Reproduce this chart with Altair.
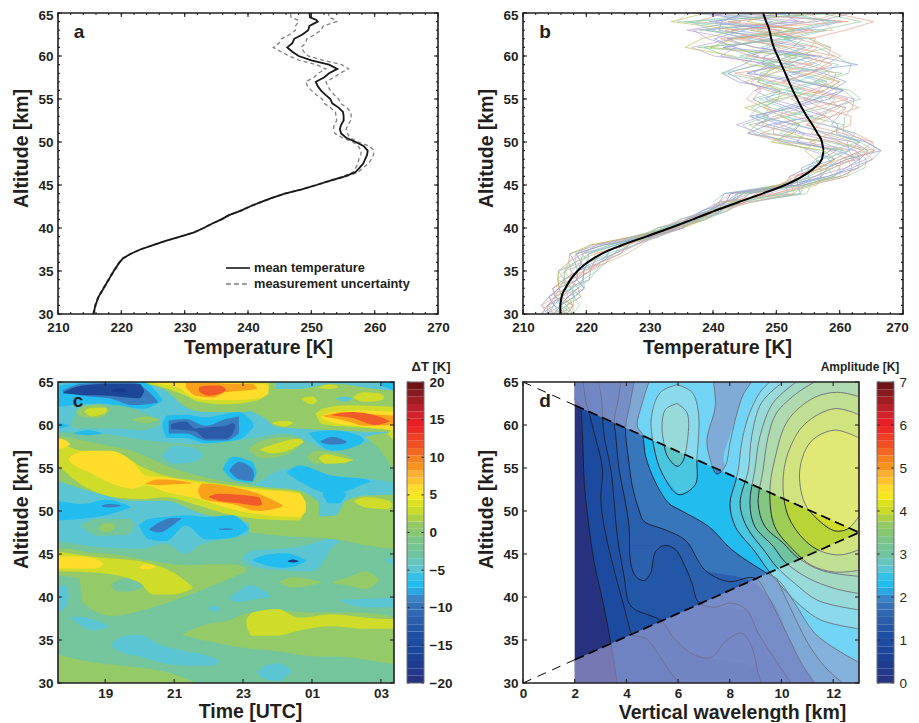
import altair as alt
import pandas as pd

INK = "#231f20"
FONT = "Liberation Sans"

# ---------- panel a ----------
A_ALT = [30,31,32,33,34,35,36,36.5,37,37.5,38,38.5,39,39.5,40,40.5,41,41.5,42,42.5,43,43.5,44,44.5,45,45.5,46,46.5,47,47.5,48,48.5,49,49.5,50,50.5,51,51.5,52,52.5,53,53.5,54,54.5,55,55.5,56,56.5,57,57.5,58,58.5,59,59.5,60,60.5,61,61.5,62,62.5,63,63.5,64,64.2,64.5,65]
A_MEAN = [215.6,215.9,216.4,217.2,218,218.8,219.7,220.3,221.5,223,225,227,229.3,231.5,233,234.3,235.8,237,238.8,240.3,242,243.8,245.8,248.5,250.8,253,255.3,257,257.6,258.2,258.5,258.8,258.9,258.3,257,255.5,254.7,254.5,254.7,255.1,255.1,255,254.3,253.3,253,252.2,251.5,251,250.7,252,252.8,254.1,252.8,250,248,247,246.2,247,247.3,248.6,249.5,249.7,251,250.8,249.8,249.7]
A_HALF = [.1,.1,.1,.1,.1,.1,.1,.1,.1,.1,.1,.1,.1,.1,.1,.1,.1,.1,.15,.15,.15,.15,.15,.15,.2,.2,.3,.4,.6,.8,1,1,1,.9,.4,.6,1,1,1.1,1.1,1.2,1.2,1.3,1.3,1.3,1.4,1.5,1.6,1.6,1.6,1.7,1.8,2,1.9,1.5,1.8,2.2,2.1,2,2,2,2.2,3,3,3,3]

# ---------- panel b ----------
B_ALT = list(range(30, 66))
B_MEAN = [215.9,215.9,216.1,216.7,217.5,218.6,220.2,222.4,225.6,229.4,233.2,236.8,240.3,244,247.8,251.4,254.1,256,257.2,257.5,257.2,256.5,255.7,254.8,254,253.3,252.6,252,251.4,250.8,250.2,249.6,249.2,248.9,248.4,247.9]
B_DEV = [
 [-2,-1,0,1,1,2,2,1,-1,-1,0,1,0,-2,-3,3,5,5,6,7,5,-2,-5,-8,-3,2,4,6,2,-3,-2,3,5,-6,8,14],
 [-3,-2,-1,-1,-2,-2,-3,-4,-3,-1,1,2,1,-3,-5,-1,2,3,5,4,-6,-11,-9,-4,2,8,3,-2,-8,3,7,-3,-8,2,-11,-6],
 [1,2,2,3,2,1,0,-3,-2,0,2,1,-1,1,7,4,7,8,7,8,6,4,5,6,8,9,8,5,10,11,9,7,2,8,15,9],
 [0,-1,-2,0,1,1,2,3,2,1,-1,-2,-1,0,-2,1,-1,1,2,-2,-6,-9,-12,-7,-5,-7,-5,-6,-3,-1,-10,-13,-6,-13,-4,-8],
 [-1,0,1,2,3,3,3,1,-2,-1,1,2,1,-4,-6,-1,1,-1,-1,1,3,1,-2,-3,2,4,-1,1,6,9,3,-2,3,9,-14,-12],
 [2,1,-1,-2,-1,0,1,2,1,0,-1,-1,0,2,6,2,4,6,8,9,7,5,3,5,7,2,-3,-7,-9,-4,0,5,-3,-10,5,3],
 [-3,-2,0,2,0,-1,-1,-4,-5,-2,0,1,2,1,-1,0,-2,2,4,8,8,6,2,-2,-6,-8,-6,-1,4,7,10,8,6,12,17,11],
 [0,1,3,2,0,-2,-2,-1,0,1,2,2,-1,-2,3,5,3,1,-1,-3,-1,-4,-8,-6,-9,-3,5,8,3,-5,-7,-14,-11,-5,-15,-9],
 [2,3,2,1,2,3,2,3,1,-1,-2,0,1,-1,-4,-1,6,7,5,3,0,-6,-3,2,5,10,9,3,-4,1,5,2,-2,3,10,4],
 [-2,-3,-2,-1,1,0,-2,-5,-4,-2,1,0,-2,-3,-6,1,0,-2,0,2,-4,-11,-7,1,-2,-5,-2,-8,-10,-6,-3,-6,-9,-4,1,-11],
 [1,0,0,-1,0,1,3,4,3,1,0,2,1,2,5,3,5,4,3,6,5,1,-1,2,6,5,7,4,7,6,8,9,4,-2,7,12],
 [-1,-2,1,3,1,-1,-3,-3,-1,0,1,-1,-2,-1,1,2,-1,0,6,5,2,-3,-9,-5,0,-4,-6,-3,2,4,-4,-8,1,6,-8,-2],
 [0,2,1,0,3,2,1,0,0,2,2,1,0,1,2,4,7,6,4,1,-2,2,6,7,3,1,5,8,5,-2,2,6,7,-3,3,6],
 [-3,-1,-1,1,2,1,-1,-2,-2,-1,-1,0,-1,-3,4,0,2,3,1,-1,-7,-5,-2,-9,-7,-2,2,-4,-6,-1,-6,1,-4,-9,-12,1],
 [1,-1,-2,-1,-1,0,2,2,2,2,1,-1,-2,-2,-5,1,-2,-1,2,4,6,3,4,3,-1,3,8,2,0,12,6,-3,-7,5,12,-5],
 [-2,0,2,1,-2,-3,-2,-4,-3,0,1,2,2,0,-2,2,1,2,3,7,1,-8,-10,-3,4,6,-1,-5,-2,2,-8,-11,3,-1,-6,8],
 [2,2,0,-1,-2,-3,-3,-5,-5,-2,0,1,0,-1,-3,-1,0,1,2,0,-8,-4,-2,-4,-6,-3,-2,-5,-3,0,3,-10,-6,4,-3,2],
 [-1,-3,-1,0,1,2,1,-1,1,0,-2,-1,-1,-3,2,3,6,7,8,6,3,-1,1,4,9,7,2,-1,4,8,4,7,-2,-7,13,-4],
 [0,0,1,2,2,1,0,-2,-1,1,2,0,-1,-2,-4,2,3,2,4,9,7,2,-3,-7,-2,3,6,9,6,1,-4,-1,4,1,-9,5],
 [-1,1,2,0,-1,-2,0,2,0,-2,-1,2,1,-1,6,3,6,4,1,3,-5,-10,-11,-6,-8,-4,1,-3,-10,-3,2,9,6,-11,3,-7],
 [1,2,-1,-2,0,2,3,2,2,1,1,-1,0,1,-1,-1,-1,0,3,6,8,4,-1,3,1,-1,3,7,8,4,9,3,-5,7,-6,10],
 [-2,-2,0,1,-1,-3,-1,-3,-4,-1,0,1,1,-2,-5,2,2,5,7,5,-3,-7,-6,1,5,9,4,0,-5,-2,-9,-6,-10,-12,6,-10],
 [2,0,-1,1,3,2,0,1,2,0,-2,1,2,0,3,4,1,-1,0,4,4,6,2,-4,-3,-6,0,5,1,6,1,5,2,4,11,1],
 [-1,0,2,3,1,0,-1,-4,-3,1,2,-1,-1,-2,-2,0,4,7,6,2,-4,-2,-7,-9,-1,5,8,2,-6,0,6,-8,0,-8,-7,-3],
 [0,-2,-1,-2,-1,1,2,3,1,-1,1,2,0,-3,5,1,-1,3,5,8,2,-9,-4,4,7,1,-4,-7,-2,5,-5,2,-6,10,9,7],
 [1,1,3,1,-1,-2,-2,-2,-1,2,0,-2,-1,0,-4,3,5,2,-1,1,6,2,5,0,-5,-7,-2,4,9,-3,4,-12,3,-3,-13,13],
]
B_COLORS = ["#8f9fd6","#e9a08a","#93cba0","#b9a0d4","#86cccc","#8f9fd6","#e9a08a","#c0bf5a","#93cba0","#8f9fd6","#d8b090","#b9a0d4","#e9a08a","#86cccc","#8f9fd6","#93cba0","#b5b83a","#e9a08a","#8f9fd6","#93cba0","#e9a08a","#b9a0d4","#86cccc","#8f9fd6","#d8b090","#93cba0"]

# ---------- colour bars ----------
CBAR = ["#27337f","#23388a","#1f3c8f","#1d4296","#1c479c","#1e4ca0","#1f4fa2","#2456a6","#2a5ca9","#3067b1","#3672b8","#3a85c8","#2aa7e0","#23bcee","#35c1e6","#5bc5d3","#66c5bd","#6fc3a0","#75c494","#7bc587","#88c772","#93c966","#aed144","#cbdb2a","#dbe01f","#f4e61f","#ffdd2a","#fdc32b","#fbaf33","#f7941e","#f58220","#f26522","#ef5023","#ee3e26","#ec2a27","#e71f26","#d2232a","#b9202a","#a01d22","#861a1e","#6e1414"]

# ---------- panel c : nested filled contours (hour, low km, high km) ----------
T,G,Y1,Y,O,R,L,S,M,B,D,X = "#74c59c","#94ca68","#cfdc2a","#ffdd2a","#f9a11b","#f15a29","#5bc5d3","#23bcee","#3a7cc0","#2a5aa8","#1d4697","#173a8b"
C_BLOBS = [
 (T,[(17.63,30,65),(27.38,30,65)]),
 (G,[(17.63,30,33.3),(18.5,30,32.5),(19.5,30,32),(20.5,30,31.5),(21,30,31),(21.65,30,30)]),
 (G,[(21.24,35.6,35.7),(21.92,34.9,36.8),(22.69,34.3,37.4),(23,34.1,38),(24,33.7,38.4),(25,33.1,38.2),(26,33,38.2),(27,32.4,38),(27.38,32.2,37.6)]),
 (Y1,[(23.1,36.6,37.4),(23.27,35.5,38.2),(24,35.5,38.6),(24.62,36.1,37.6),(25.59,36.6,38),(26.56,36.3,37.6),(27.38,36.3,37.4)]),
 (L,[(19.16,34.3,34.5),(19.5,33.5,35.4),(20,33.1,35.6),(20.56,32.4,34.5),(21.34,32,33.7),(22.1,32,33),(22.3,32.4,32.6)]),
 (L,[(23.42,31.1,31.3),(23.66,30.4,32),(24,30.2,32.3),(24.4,31.3,31.5)]),
 (L,[(18,37.5,37.7),(18.25,36.8,37.7),(18.63,36.1,37.4),(19.1,36.5,36.7)]),
 (G,[(17.63,42.5,45.66),(18.25,42.1,45.4),(18.34,39.4,45.3),(19.21,37.8,45),(20.37,38.8,44.2),(21.34,40.1,43.7),(22.11,41.3,43.8),(22.69,42.3,43.8),(23.08,42.9,43.4)]),
 (T,[(19.16,41.3,41.4),(19.4,40.6,42),(19.8,40.7,42.2),(20.15,41.3,41.4)]),
 (Y1,[(17.63,43,45.3),(18.83,42.8,44.6),(19.99,41.7,44.2),(20.37,40.3,43.8),(20.95,40.3,42.9),(21.53,41,41.2)]),
 (Y,[(17.63,43.3,44.7),(18.25,43.3,44.7),(18.74,43.3,44.4),(18.95,43.8,43.9)]),
 (Y,[(20,43.4,43.5),(20.2,43.2,43.8),(20.45,43.5,43.6)]),
 (G,[(24.07,41.6,41.8),(24.43,41.1,42.3),(25.25,41.6,41.8)]),
 (G,[(25.6,41.6,41.8),(26.07,41.3,42.3),(26.55,40.9,43),(26.94,41.9,42.1)]),
 (L,[(22.6,39.7,39.9),(22.88,39.4,40.7),(23.17,39.6,41.4),(23.8,40,40.2)]),
 (L,[(25.83,39.5,39.7),(26.56,38.8,39.8),(27.38,38.8,39.9)]),
 (L,[(17.63,38.2,41.3),(17.86,38.9,41.3),(17.94,40,40.2)]),
 (L,[(22,38.6,38.7),(22.2,38.3,39),(22.35,38.6,38.7)]),
 (L,[(22.98,44.3,44.5),(23.27,43.6,45.4),(24.14,43.1,45.6),(25.01,43,46.2),(25.25,43.6,46.5),(25.59,45.8,46.9),(25.78,46.3,46.5)]),
 (S,[(23.3,44.2,44.4),(23.66,43.7,44.9),(24.24,43.4,45.1),(24.82,44.1,44.3)]),
 (X,[(24.3,44.1,44.2),(24.45,44,44.35),(24.6,44.1,44.2)]),
 (L,[(17.63,46.5,65),(18.83,45.8,65),(19.99,45.6,65),(20.76,46.2,65),(21.34,45,65),(21.72,46,65),(22.98,47.1,65),(23.66,47.9,65),(25.59,48.3,65),(27.38,48.3,65)]),
 (T,[(17.63,58.2,59.2),(18.83,57.2,59),(20.28,55.3,58.2),(21.72,53.3,57.8),(23.17,53,58.4),(24.24,54.9,59),(25.59,54.1,57),(26.75,53.7,58.2),(27.38,53.3,59.2)]),
 (L,[(20.66,56.3,56.5),(21,55.5,57.6),(21.5,55.6,57.4),(21.85,56.4,56.6)]),
 (G,[(17.63,53.5,58.8),(18.83,52,57.8),(19.79,51.2,57),(20.76,51.2,55.3),(21.72,49.8,54.1),(22.69,48.9,53.3),(23.66,48.5,52.8),(24.62,48.3,52.4),(25.2,48.7,51)]),
 (G,[(23.17,47.5,49.1),(24.14,47.1,48.9),(25.11,46.9,49.3),(25.7,46.7,49.5),(25.98,46.5,51.2),(26.56,46,51.8),(27.38,45.6,51.9)]),
 (Y1,[(26.22,51.1,51.2),(26.56,50.4,51.6),(27.23,50.2,51.2),(27.32,50.6,50.8)]),
 (Y1,[(17.63,55.3,58.2),(18.34,53,57),(19.31,51.6,56.8),(20.08,51.4,55.1),(20.76,51.6,54.1),(21.72,50.6,53.5),(22.69,49.5,53),(23.66,49,52.6),(24.62,48.9,52.2),(24.82,50.5,50.7)]),
 (Y,[(17.63,57.2,58.5),(17.8,57.3,58.3),(17.98,57.7,57.8)]),
 (Y,[(17.95,55.9,56.1),(18.05,55.5,56.5),(18.54,54.5,57),(19.12,53.3,57),(19.79,52.6,55.7),(20.18,53,54.1),(20.76,52.2,53.9),(21.72,51.4,53.3),(22.69,50.2,52.8),(23.66,49.5,52.4),(24.62,49.3,52),(24.82,50,51)]),
 (O,[(20.18,53.1,53.2),(20.57,53,53.7),(21,53.1,53.6),(21.5,53.2,53.3)]),
 (O,[(21.69,52.3,52.4),(21.82,51.4,53.2),(22.69,50.8,52.8),(23.46,50,52),(24.14,50.5,50.7)]),
 (R,[(22.01,51.6,51.7),(22.3,51.2,52),(22.88,50.9,51.9),(23.46,50.6,51.6),(23.55,50.8,50.9)]),
 (S,[(17.63,48.9,51.2),(18.34,49.1,50.8),(19.02,49.5,51.3),(19.74,50.4,50.5)]),
 (M,[(18.9,50.5,50.6),(19.1,50.4,50.8),(19.45,50.6,50.7)]),
 (T,[(18.29,48.2,48.4),(18.83,47.1,49.1),(19.7,47.3,49.1),(19.85,48.2,48.3)]),
 (G,[(18.8,47.9,48),(19,47.5,48.6),(19.2,47.8,48.6),(19.3,48.1,48.2)]),
 (S,[(19.99,48.2,48.4),(20.28,46.7,49.1),(20.76,46.5,49.3),(21.34,48.3,49.5),(21.92,46.7,49.3),(22.69,46.9,49.5),(23.17,47.9,48)]),
 (M,[(20.28,47.8,47.9),(20.57,47.5,48.7),(20.95,48.3,49.2),(21.2,49.1,49.2)]),
 (M,[(22.3,47.85,47.95),(22.5,47.8,48),(22.7,47.85,47.95)]),
 (G,[(23.08,61.9,63.4),(23.66,60.7,64.2),(23.95,59.8,64.2),(24.62,59.6,64.2),(25.59,59.4,64.8),(26.84,59.2,64.2),(27.38,59.2,64)]),
 (G,[(26.56,58.5,58.6),(27,57,59),(27.38,54.6,59.2)]),
 (Y1,[(27.2,58.9,59),(27.3,58.5,59.5),(27.38,58.2,60)]),
 (S,[(27,64.6,65),(27.38,64,65)]),
 (G,[(20.08,64.8,65),(20.76,64,65),(21.34,62.1,65),(21.92,61.5,65),(22.69,61.5,65),(23.46,61.7,65),(23.95,63.4,64.9)]),
 (Y1,[(20.18,64.9,65),(20.95,64,65),(21.34,63.4,65),(21.72,62.7,65),(22.5,62.4,65),(23.46,62.9,65),(23.75,64,64.9)]),
 (Y,[(20.47,64.8,65),(21.15,64.3,64.9),(21.43,63.4,64.9),(21.92,62.9,64.9),(22.69,62.9,64.9),(23.46,63.1,64.8),(23.73,63.6,64.6)]),
 (O,[(21.34,64.4,64.9),(21.63,63.4,64.9),(22.11,63.2,64.9),(22.5,63.8,64.8),(23.27,64.1,64.8),(23.4,64.2,64.3)]),
 (R,[(21.72,63.9,64.4),(22.01,63.4,64.6),(22.3,63.6,64.6),(22.5,64,64.2)]),
 (S,[(17.63,62.1,64.6),(18.83,62.5,65),(20.08,61.9,65),(20.66,62.8,63)]),
 (M,[(17.76,63.9,64),(18.34,63.4,64.8),(19.12,63.1,64.9),(19.79,62.3,64.9),(20.52,62.6,62.8)]),
 (D,[(17.78,63.7,63.8),(18.34,63.5,64.6),(19.12,63.4,64.8),(19.99,63.1,64.8),(20.13,63.9,64)]),
 (X,[(19.2,63.9,64),(19.5,63.8,64.3),(19.6,63.9,64)]),
 (T,[(18,59.8,60),(18.34,59.6,62.3),(19.3,59.6,62.3),(20.08,59.4,61.5),(20.6,60,60.5)]),
 (G,[(18.15,61.5,61.6),(18.34,60.9,62.1),(18.83,60.8,62.4),(19.12,61.6,61.8)]),
 (Y1,[(18.4,61.5,61.6),(18.6,61,62),(19,61.4,62),(19.05,61.7,61.8)]),
 (G,[(19.79,60.6,60.7),(20.2,60.2,61),(20.57,60.6,60.7)]),
 (S,[(18.1,59,59.1),(18.5,58.8,59.4),(18.9,59,59.1)]),
 (S,[(17.63,59.5,60.3),(17.95,59.9,60)]),
 (S,[(20.66,59.8,60.2),(20.8,58.5,61.1),(21.34,58.5,61.2),(21.92,57.9,60.9),(22.88,58.3,61.5),(23.3,59.8,60.2)]),
 (M,[(20.84,59,60.5),(21.34,59,60.7),(21.92,58.2,59.9),(22.5,58.2,60.7),(22.88,59,61)]),
 (B,[(20.9,59.5,60.1),(21.34,59.4,60.4),(21.6,59.3,59.6),(21.92,58.4,59.7),(22.5,58.4,59.9),(22.7,59,60.2),(22.78,59.9,60)]),
 (S,[(24.91,59,59.1),(25.59,57,59.4),(26.41,57.8,58.7),(26.5,58.2,58.3)]),
 (M,[(25.25,58,58.1),(25.6,57.7,58.6),(26,57.9,58.1)]),
 (S,[(24.28,54.4,54.6),(24.62,53.5,55.3),(25.59,52,54.1),(26.56,53.2,53.7),(26.7,53.4,53.5)]),
 (S,[(25.3,52,52.1),(25.5,50.9,52.2),(25.78,50.9,52.2),(26,52,52.1)]),
 (S,[(22.42,54.8,55),(22.69,53.7,56.3),(23.27,53.3,55.7),(23.39,54.4,54.6)]),
 (M,[(22.61,54.6,54.8),(22.88,53.7,55.7),(23.27,53.5,54.9),(23.32,54.1,54.3)]),
 (G,[(23.17,57.1,57.3),(23.56,56.1,58.2),(24.24,56.5,58.6),(24.72,57.8,58.4)]),
 (Y1,[(23.5,57.1,57.2),(23.85,56.7,57.7),(24.6,57.6,58.4),(24.75,58,58.1)]),
 (Y1,[(23.85,60.2,60.3),(24.2,59.8,60.5),(24.45,60.2,60.3)]),
 (G,[(24.87,56.2,56.4),(25.11,55.5,57),(25.98,55.5,56.5),(26.1,56,56.1)]),
 (Y1,[(25.2,56.1,56.2),(25.4,55.5,56.6),(25.9,55.6,56.2),(26.2,55.9,56)]),
 (Y1,[(25.11,61.2,61.3),(25.3,60.1,61.9),(26.07,59.8,62.3),(27.38,59.4,62.1)]),
 (Y,[(25.26,60.8,60.9),(25.59,60.3,61.5),(26.56,59.8,61.7),(27.38,59.4,61.5)]),
 (O,[(25.35,61,61.1),(25.98,60.5,61.5),(26.56,59.9,61.3),(27.38,60,61.1)]),
 (R,[(25.59,61.1,61.2),(26.17,60.8,61.5),(26.84,60,61.1),(27.25,60.4,60.5)]),
 (Y1,[(24.7,63,63.1),(25,62.4,63.3),(25.15,62.8,62.9)]),
 (Y1,[(26.2,63.2,63.3),(26.5,62.7,63.8),(26.94,62.8,63.7),(27.1,63.2,63.3)]),
 (Y1,[(25.2,64.3,64.4),(25.5,64.2,64.7),(25.75,64.4,64.5)]),
 (L,[(25.7,63,63.1),(26,62.7,63.3),(26.15,63,63.1)]),
 (L,[(27.1,44.3,44.4),(27.38,43.7,44.5)]),
]
C_TICKS = [19,21,23,25,27]

# ---------- panel d : contour lines (km, altitude) ----------
D_C1 = [(2,63),(2.2,62.2),(2.3,58.7),(2.37,53.3),(2.5,49.4),(2.76,43.9),(3.08,39.6),(3.4,34.6),(3.65,30)]
D_C2 = [(2.33,65),(2.44,62.6),(2.54,61.6),(2.79,58.7),(3.08,54.8),(3.01,51.7),(3.14,48.2),(3.53,43.1),(3.87,39.3),(4.08,36.9),(4.23,35.6),(4.74,35.2),(5.32,33),(5.64,31.5),(6.03,30)]
D_C3 = [(2.92,65),(3.04,63),(3.08,60.8),(3.14,58.7),(3.4,54.8),(3.53,50.9),(3.65,47),(3.91,42.4),(4.1,39.3),(4.36,38.5),(4.87,37.9),(5.32,37.3),(5.9,35),(6.67,33.2),(7.31,33),(7.82,34.8),(8.46,35.8),(8.85,34.2),(9.1,31.1),(9.23,30)]
D_C3F = [(2.92,65),(3.04,63),(3.08,60.8),(3.14,58.7),(3.4,54.8),(3.53,50.9),(3.65,47),(3.91,42.4),(4.1,39.3),(4.36,38.5),(4.87,37.9),(5.32,37.3),(5.9,35),(6.67,33.2),(8.85,32),(9.23,30)]
D_C4 = [(3.78,65),(3.69,63),(3.53,60.6),(3.59,58.7),(3.72,54.8),(3.97,50.9),(4.1,48.2),(4.17,43.9),(4.36,42.4),(4.68,41.9),(4.94,42.8),(5.13,45.3),(5.51,46),(5.9,45.5),(6.28,43.5),(6.54,41.6),(6.79,39.4),(7.37,38.8),(8.08,39.3),(8.65,38.5),(9.1,35.8),(9.87,32.2),(10.38,30)]
D_C5 = [(4.29,65),(4.15,62.6),(3.97,59.7),(4.1,55.6),(4.23,52.9),(4.49,50.1),(4.68,48.8),(5.51,47.8),(6.28,46.6),(7.05,43.1),(7.95,41.8),(8.97,42.2),(9.49,40),(10.26,35.4),(10.77,32.3),(11.28,30)]
D_E1 = [(9.81,42.2),(10.38,38.5),(11.03,34.6),(11.67,31.9),(12.37,30)]
D_A = [(4.87,65),(4.62,62.6),(4.42,59.9),(4.62,58.9),(4.74,56.4),(5.13,53.3),(5.64,50.9),(6.15,50),(7.18,48.2),(8.08,45.5),(9.36,42.9),(9.87,42),(10.51,39.3),(11.28,35.8),(12.18,33.8),(13,32.4)]
D_TONGUE = [(7.37,65),(7.44,62.2),(7.12,58.3),(7.24,56),(7.5,54.3),(7.82,55.2),(8.01,57.9),(8.21,60.6),(8.53,63.6),(8.85,65)]
D_LOOP1 = [(5.96,64.7),(5.32,63.8),(4.97,61),(5.06,57.5),(5.38,54.4),(6.03,51.9),(6.67,53.1),(6.73,56),(6.79,61.4),(6.54,63.8),(5.96,64.7)]
D_LOOP2 = [(5.96,62.5),(5.51,61.8),(5.38,59.9),(5.45,57.9),(5.58,56.4),(5.96,55.2),(6.15,55.6),(6.35,57.9),(6.35,61.4),(5.96,62.5)]
D_R1 = [(9.55,65),(9.17,63.8),(8.72,61),(8.46,57.9),(8.33,54.8),(8.21,53.3),(8.01,50.9),(8.21,48.2),(8.97,45.3),(9.49,43.1),(10.13,40.8),(10.77,38.9),(11.54,37.3),(13,36.3)]
D_R2 = [(10.06,65),(9.23,62.6),(8.85,58.7),(8.72,54.8),(8.4,50.9),(8.65,48.2),(9.36,45.3),(9.81,43.5),(10.51,41.6),(11.41,39.6),(13,38.5)]
D_R3 = [(10.58,65),(9.68,62.6),(9.17,58.7),(8.97,54.8),(8.78,50.9),(8.97,48.2),(9.68,45.9),(10.13,44.1),(11.03,42.2),(12.05,41),(13,40.4)]
D_R4 = [(11.28,65),(10.64,63.8),(9.81,61.4),(9.49,58.7),(9.29,54.8),(9.1,50.9),(9.36,48.2),(10.06,46.3),(10.58,44.7),(11.54,43.1),(13,42.4)]
D_R5 = [(13,63.3),(12.18,63.8),(11.28,63.2),(10.26,60.6),(9.74,56),(9.55,52.1),(9.74,48.2),(10.45,45.5),(11.15,43.7),(12.05,42.9),(13,43.1)]
D_R6 = [(13,61.2),(12.05,61.9),(10.9,60.1),(10.26,56.8),(10.06,53.3),(10.26,49.4),(10.9,46.6),(11.54,45.3),(12.31,44.9),(13,45.5)]
D_R7 = [(13,58.5),(12.05,59.4),(11.15,58.1),(10.71,54.8),(10.9,50.9),(11.41,49),(12.05,47.7),(12.56,47.9),(13,49.4)]
D_LINES = [D_C1,D_C2,D_C3,D_C4,D_C5,D_E1,D_A,D_TONGUE,D_LOOP1,D_LOOP2,D_R1,D_R2,D_R3,D_R4,D_R5,D_R6,D_R7]

def right_of(path):
    return [(a, x, 13) for x, a in path]

# fills : (colour, [(altitude, left km, right km), ...]) painted in order
D_FILLS = [
 ("#27337f",[(65,2,13),(30,2,13)]),
 ("#1b4a9f",[(65,2,13)]+right_of(D_C1)),
 ("#1e51a4",right_of(D_C2)),
 ("#2256a7",right_of(D_C3F)),
 ("#2a60ad",right_of(D_C4[:7])+[(46,4.14,13)]),
 ("#2a60ad",[(46,4.14,5.51),(45.3,4.15,5.13),(43.9,4.17,4.98),(42.8,4.3,4.94),(42.4,4.36,4.85),(41.9,4.68,4.68)]),
 ("#2a60ad",[(46,5.51,13),(45.5,5.9,13),(43.5,6.28,13),(41.6,6.54,13),(39.4,6.79,13),(38.8,7.37,13),(38.5,8.65,13),(35.8,9.1,13),(32.2,9.87,13),(30,10.38,13)]),
 ("#3876bc",[(65,4.29,13),(62.6,4.15,13),(59.7,3.97,13),(55.6,4.1,13),(52.9,4.23,13),(50.1,4.49,13),(48.8,4.68,13),(47.8,5.51,13),(46.6,6.28,13),(43.1,7.05,13),(42.2,8.5,13),(40,9.49,13),(35.4,10.26,13),(32.3,10.77,13),(30,11.28,13)]),
 ("#3f86c8",right_of(D_E1)),
 ("#23bcee",right_of(D_A)),
 ("#3a7cc0",[(65,7.37,8.85),(63.6,7.42,8.53),(62.2,7.44,8.38),(60.6,7.3,8.21),(58.3,7.12,7.95),(56,7.24,7.75),(55.2,7.38,7.82),(54.3,7.5,7.5)]),
 ("#49c6e0",[(64.7,5.96,5.96),(63.8,5.32,6.54),(61,4.97,6.77),(57.5,5.06,6.75),(54.4,5.38,6.72),(53.1,5.7,6.67),(51.9,6.03,6.03)]),
 ("#5fc6c4",[(62.5,5.96,5.96),(61.8,5.51,6.2),(59.9,5.38,6.38),(57.9,5.45,6.35),(56.4,5.58,6.24),(55.2,5.96,5.96)]),
 ("#49c6e0",right_of(D_R1)),
 ("#5fc6c4",right_of(D_R2)),
 ("#6fc3a0",right_of(D_R3)),
 ("#82c682",right_of(D_R4)),
 ("#9dcd55",[(63.8,12.18,12.18),(63.3,11.4,13),(60.6,10.26,13),(56,9.74,13),(52.1,9.55,13),(48.2,9.74,13),(45.5,10.45,13),(43.7,11.15,13),(43.1,11.7,13),(42.9,12.05,12.5)]),
 ("#b8d437",[(61.9,12.05,12.05),(61.2,11.5,13),(60.1,10.9,13),(56.8,10.26,13),(53.3,10.06,13),(49.4,10.26,13),(46.6,10.9,13),(45.5,11.44,13),(45.3,11.54,12.7),(44.9,12.31,12.31)]),
 ("#d0dd2a",[(59.4,12.05,12.05),(58.5,11.4,13),(58.1,11.15,13),(54.8,10.71,13),(50.9,10.9,13),(49.4,11.2,13),(49,11.41,12.9),(47.9,12,12.56),(47.7,12.05,12.3)]),
]
MASK_X = [2, 13]
MASK_UP = [62.3, 47.5]
MASK_LOW = [32.7, 47.5]
GUIDE_X = [0, 2]
GUIDE_UP = [65, 62.3]
GUIDE_LOW = [30, 32.7]
TINT_LOW = [(2,30,32.7),(5.5,30,37.4),(8.97,30,42.2),(9.49,30,40),(10.26,30,35.4),(10.77,30,32.3),(11.28,30,30)]
TINT_UP = [(2,62.3,65),(3.97,59.6,65),(4.15,62.6,65),(4.29,65,65)]

# ---------- helpers ----------
ONE = pd.DataFrame({"a": [0]})
Y_SCALE = alt.Scale(domain=[30, 65], nice=False, zero=False)
TY_TICKS = [30, 35, 40, 45, 50, 55, 60, 65]
Y_MINOR = list(range(30, 66))
T_SCALE = alt.Scale(domain=[210, 270], nice=False, zero=False)
T_TICKS = list(range(210, 271, 10))
T_MINOR = list(range(210, 271, 2))

def axis(values, title, expr=None, labelPad=6, size=19.5, **kw):
    opts = dict(values=values, title=title, tickSize=0, domain=False, grid=False, labelFont=FONT, labelFontSize=13.5,
                labelFontWeight="bold", labelColor=INK, titleFont=FONT, titleFontSize=size, titleFontWeight="bold",
                titleColor=INK, labelPadding=labelPad, labelOverlap=False, labelFlush=False, **kw)
    if expr:
        opts["labelExpr"] = expr
    return alt.Axis(**opts)

def xaxis(values, title, tx, ty, **kw):
    return axis(values, title, titleX=tx, titleY=ty, titleBaseline="alphabetic", titleAnchor="middle", titleAlign="center", **kw)

def yaxis(tx, ty, **kw):
    return axis(TY_TICKS, "Altitude [km]", labelPad=5, titleX=tx, titleY=ty, titleBaseline="middle", titleAnchor="middle", titleAlign="center", **kw)

def xticks(vals, scale, ax, h, L):
    d = pd.DataFrame({"v": vals})
    base = alt.Chart(d).mark_rule(color=INK, strokeWidth=1.1)
    x = alt.X("v:Q", scale=scale, axis=ax)
    return [base.encode(x=x, y=alt.value(h), y2=alt.value(h - L)), base.encode(x=x, y=alt.value(0), y2=alt.value(L))]

def yticks(vals, scale, ax, w, L):
    d = pd.DataFrame({"v": vals})
    base = alt.Chart(d).mark_rule(color=INK, strokeWidth=1.1)
    y = alt.Y("v:Q", scale=scale, axis=ax)
    return [base.encode(y=y, x=alt.value(0), x2=alt.value(L)), base.encode(y=y, x=alt.value(w), x2=alt.value(w - L))]

def frame(w, h, sw=1.6, col=INK):
    return alt.Chart(ONE).mark_rect(fillOpacity=0, stroke=col, strokeWidth=sw).encode(
        x=alt.value(0), x2=alt.value(w), y=alt.value(0), y2=alt.value(h))

def letter(t, px, py):
    return alt.Chart(ONE).mark_text(text=t, font=FONT, fontSize=19, fontWeight="bold", color=INK).encode(
        x=alt.value(px), y=alt.value(py))

def profile_frame(a, t):
    return pd.DataFrame({"alt": a, "t": t, "i": range(len(a))})

# ---------- a ----------
WA, HA = 380, 301
AX_T = xaxis(T_TICKS, "Temperature [K]", 200, 39)
AX_Y = yaxis(-37, 135, labelOffset={"condition": {"test": "datum.value == 65", "value": 2}, "value": 0})
xa = alt.X("t:Q", scale=T_SCALE, axis=AX_T)
ya = alt.Y("alt:Q", scale=Y_SCALE, axis=AX_Y)
a_layers = [
    alt.Chart(profile_frame(A_ALT, [m + h for m, h in zip(A_MEAN, A_HALF)])).mark_line(color="#808080", strokeWidth=1.3, strokeDash=[4, 3]).encode(x=xa, y=ya, order="i:Q"),
    alt.Chart(profile_frame(A_ALT, [m - h for m, h in zip(A_MEAN, A_HALF)])).mark_line(color="#808080", strokeWidth=1.3, strokeDash=[4, 3]).encode(x=xa, y=ya, order="i:Q"),
    alt.Chart(profile_frame(A_ALT, A_MEAN)).mark_line(color="#1a1718", strokeWidth=1.8).encode(x=xa, y=ya, order="i:Q"),
]
a_layers += xticks(T_TICKS, T_SCALE, AX_T, HA, 4) + xticks(T_MINOR, T_SCALE, AX_T, HA, 2)
a_layers += yticks(TY_TICKS, Y_SCALE, AX_Y, WA, 4) + yticks(Y_MINOR, Y_SCALE, AX_Y, WA, 2)
a_layers += [
    alt.Chart(ONE).mark_rule(color="#1a1718", strokeWidth=1.6).encode(x=alt.value(168), x2=alt.value(192), y=alt.value(255)),
    alt.Chart(ONE).mark_rule(color="#808080", strokeWidth=1.5, strokeDash=[5, 3]).encode(x=alt.value(168), x2=alt.value(192), y=alt.value(271)),
    alt.Chart(ONE).mark_text(text="mean temperature", font=FONT, fontSize=12.8, fontWeight="bold", color=INK, align="left").encode(x=alt.value(196), y=alt.value(255)),
    alt.Chart(ONE).mark_text(text="measurement uncertainty", font=FONT, fontSize=12.8, fontWeight="bold", color=INK, align="left").encode(x=alt.value(196), y=alt.value(271)),
    letter("a", 21, 19), frame(WA, HA),
]
panel_a = alt.layer(*a_layers).properties(width=WA, height=HA)

# ---------- b ----------
AX_TB = xaxis(T_TICKS, "Temperature [K]", 194, 39, labelOffset={"condition": {"test": "datum.value == 270", "value": -6}, "value": 0})
xb = alt.X("t:Q", scale=T_SCALE, axis=AX_TB)
rows = []
for p, dev in enumerate(B_DEV):
    for i, (al, m, dv) in enumerate(zip(B_ALT, B_MEAN, dev)):
        rows.append({"p": f"p{p:02d}", "c": B_COLORS[p], "alt": al, "t": m + dv, "i": i})
b_layers = [
    alt.Chart(pd.DataFrame(rows)).mark_line(strokeWidth=0.8, opacity=0.85, clip=True).encode(x=xb, y=ya, color=alt.Color("c:N", scale=None), detail="p:N", order="i:Q"),
    alt.Chart(profile_frame(B_ALT, B_MEAN)).mark_line(color="#000000", strokeWidth=2, interpolate="monotone").encode(x=xb, y=ya, order="i:Q"),
]
b_layers += xticks(T_TICKS, T_SCALE, AX_TB, HA, 4) + xticks(T_MINOR, T_SCALE, AX_TB, HA, 2)
b_layers += yticks(TY_TICKS, Y_SCALE, AX_Y, WA, 4) + yticks(Y_MINOR, Y_SCALE, AX_Y, WA, 2)
b_layers += [letter("b", 22, 19), frame(WA, HA)]
panel_b = alt.layer(*b_layers).properties(width=WA, height=HA)

# ---------- c ----------
WC, HC = 336, 301
X_C = alt.Scale(domain=[17.63, 27.38], nice=False, zero=False)
AX_C = xaxis(C_TICKS, "Time [UTC]", 192, 34, expr="datum.value > 24 ? '0' + (datum.value - 24) : '' + datum.value", labelPad=3)
AX_Y2 = yaxis(-37, 127)
rows = []
for n, (c, pts) in enumerate(C_BLOBS):
    for (h, lo, hi) in pts:
        rows.append({"b": f"b{n:03d}", "c": c, "x": h, "lo": lo, "hi": hi})
c_layers = [
    alt.Chart(pd.DataFrame(rows)).mark_area(interpolate="monotone", clip=True).encode(
        x=alt.X("x:Q", scale=X_C, axis=AX_C),
        y=alt.Y("lo:Q", scale=Y_SCALE, axis=AX_Y2),
        y2="hi:Q", color=alt.Color("c:N", scale=None), detail="b:N"),
]
c_layers += xticks(C_TICKS, X_C, AX_C, HC, 4) + yticks(TY_TICKS, Y_SCALE, AX_Y2, WC, 4)
c_layers += [letter("c", 20, 19), frame(WC, HC)]
panel_c = alt.layer(*c_layers).properties(width=WC, height=HC)

# ---------- d ----------
WD, HD = 336, 301
X_D = alt.Scale(domain=[0, 13], nice=False, zero=False)
D_TICKS = list(range(0, 13, 2))
AX_D = xaxis(D_TICKS, "Vertical wavelength [km]", 209, 35, labelPad=3)
rows = []
for n, (c, pts) in enumerate(D_FILLS):
    for (al, x1, x2) in pts:
        rows.append({"b": f"f{n:03d}", "c": c, "alt": al, "x1": x1, "x2": x2})
lines = []
for n, path in enumerate(D_LINES):
    for i, (x, al) in enumerate(path):
        lines.append({"l": f"l{n:02d}", "x": x, "alt": al, "i": i})
mask = pd.DataFrame({"x": MASK_X, "up": MASK_UP, "low": MASK_LOW})
guide = pd.DataFrame({"x": GUIDE_X, "up": GUIDE_UP, "low": GUIDE_LOW})
tint_low = pd.DataFrame(TINT_LOW, columns=["x", "a", "b"])
tint_up = pd.DataFrame(TINT_UP, columns=["x", "a", "b"])
xd = alt.X("x:Q", scale=X_D, axis=AX_D)
yd = alt.Y("alt:Q", scale=Y_SCALE, axis=AX_Y2)
yu = alt.Y("up:Q", scale=Y_SCALE, axis=AX_Y2)
yl = alt.Y("low:Q", scale=Y_SCALE, axis=AX_Y2)
ya2 = alt.Y("a:Q", scale=Y_SCALE, axis=AX_Y2)
d_layers = [
    alt.Chart(pd.DataFrame(rows)).mark_area(interpolate="monotone", orient="horizontal", clip=True).encode(
        x=alt.X("x1:Q", scale=X_D, axis=AX_D), x2="x2:Q", y=yd,
        color=alt.Color("c:N", scale=None), detail="b:N"),
    alt.Chart(pd.DataFrame(lines)).mark_line(color="#1c1c2a", strokeWidth=0.9, interpolate="catmull-rom", clip=True).encode(
        x=xd, y=yd, detail="l:N", order="i:Q"),
    alt.Chart(tint_low).mark_area(color="#2a1f9a", opacity=0.3).encode(x=xd, y=ya2, y2="b:Q"),
    alt.Chart(tint_up).mark_area(color="#2a1f9a", opacity=0.25).encode(x=xd, y=ya2, y2="b:Q"),
    alt.Chart(mask).mark_area(color="#ffffff", opacity=0.36).encode(x=xd, y=yu, y2=alt.Y2(datum=65)),
    alt.Chart(mask).mark_area(color="#ffffff", opacity=0.36).encode(x=xd, y=yl, y2=alt.Y2(datum=30)),
    alt.Chart(mask).mark_line(color="#000000", strokeWidth=1.7, strokeDash=[10, 5]).encode(x=xd, y=yu),
    alt.Chart(mask).mark_line(color="#000000", strokeWidth=1.7, strokeDash=[10, 5]).encode(x=xd, y=yl),
    alt.Chart(guide).mark_line(color="#000000", strokeWidth=1, strokeDash=[9, 7]).encode(x=xd, y=yu),
    alt.Chart(guide).mark_line(color="#000000", strokeWidth=1, strokeDash=[9, 7]).encode(x=xd, y=yl),
]
d_layers += xticks(D_TICKS, X_D, AX_D, HD, 4) + yticks(TY_TICKS, Y_SCALE, AX_Y2, WD, 4)
d_layers += [letter("d", 22, 19), frame(WD, HD)]
panel_d = alt.layer(*d_layers).properties(width=WD, height=HD)

# ---------- colour bars ----------
def colorbar(vmin, vmax, ticks, title, title_x, size, weight):
    n = len(CBAR)
    step = (vmax - vmin) / n
    d = pd.DataFrame({"lo": [vmin + i * step for i in range(n)], "hi": [vmin + (i + 1) * step for i in range(n)], "c": CBAR})
    sc = alt.Scale(domain=[vmin, vmax], nice=False, zero=False)
    ax = alt.Axis(values=ticks, title=None, tickSize=0, domain=False, grid=False, orient="right", format="d",
                  labelFont=FONT, labelFontSize=13.5, labelFontWeight=weight, labelColor=INK, labelPadding=5,
                  labelOverlap=False, labelFlush=False)
    W, H = 17, 301
    t = pd.DataFrame({"v": ticks})
    layers = [
        alt.Chart(d).mark_rect().encode(x=alt.value(0), x2=alt.value(W), y=alt.Y("lo:Q", scale=sc, axis=ax), y2="hi:Q", color=alt.Color("c:N", scale=None)),
        alt.Chart(t).mark_rule(color=INK, strokeWidth=1).encode(y=alt.Y("v:Q", scale=sc, axis=ax), x=alt.value(W - 2.5), x2=alt.value(W)),
        alt.Chart(t).mark_rule(color=INK, strokeWidth=1).encode(y=alt.Y("v:Q", scale=sc, axis=ax), x=alt.value(0), x2=alt.value(2.5)),
        alt.Chart(ONE).mark_text(text=title, font=FONT, fontSize=size, fontWeight="bold", color=INK, align="center").encode(x=alt.value(title_x), y=alt.value(-15)),
        frame(W, H, 1, "#6d6e71"),
    ]
    return alt.layer(*layers).properties(width=W, height=H)

cbar_c = colorbar(-20, 20, list(range(-20, 21, 5)), "\u0394T [K]", 24, 13, "bold")
cbar_d = colorbar(0, 7, list(range(0, 8)), "Amplitude [K]", -17, 12, "normal")

top = alt.hconcat(panel_a, panel_b, spacing=26)
left = alt.hconcat(panel_c, cbar_c, spacing=13, bounds="flush")
right = alt.hconcat(panel_d, cbar_d, spacing=18, bounds="flush")
bottom = alt.hconcat(left, right, spacing=24)
chart = alt.vconcat(top, bottom, spacing=4).properties(padding={"left": 3, "top": 0, "right": 0, "bottom": 0}).configure_view(stroke=None)
chart.save("out.html", embed_options={"renderer": "svg", "actions": False})
